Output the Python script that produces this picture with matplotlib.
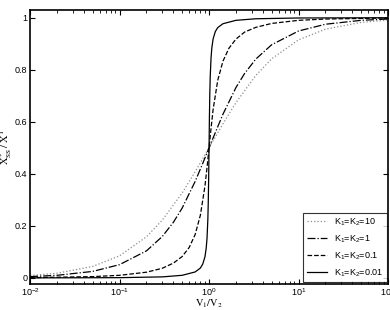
import numpy as np
import matplotlib.pyplot as plt

# V1/V2 sample points and steady-state fraction
x_k10 = [0.01, 0.02, 0.05, 0.1, 0.2, 0.3, 0.5, 0.7, 1.0, 1.43, 2.0, 3.33, 5.0, 10.0, 20.0, 50.0, 100.0]
y_k10 = [0.009, 0.018, 0.044, 0.085, 0.158, 0.222, 0.326, 0.408, 0.5, 0.592, 0.674, 0.778, 0.842, 0.915, 0.956, 0.982, 0.991]

x_k1 = [0.01, 0.02, 0.05, 0.1, 0.2, 0.3, 0.4, 0.5, 0.7, 0.85, 1.0, 1.18, 1.43, 2.0, 2.5, 3.33, 5.0, 10.0, 20.0, 50.0, 100.0]
y_k1 = [0.005, 0.010, 0.025, 0.051, 0.104, 0.159, 0.214, 0.268, 0.371, 0.440, 0.5, 0.560, 0.629, 0.732, 0.786, 0.841, 0.896, 0.949, 0.975, 0.990, 0.995]

x_k01 = [0.01, 0.05, 0.1, 0.2, 0.3, 0.4, 0.5, 0.6, 0.7, 0.8, 0.9, 0.95, 1.0, 1.053, 1.11, 1.25, 1.43, 1.67, 2.0, 2.5, 3.33, 5.0, 10.0, 20.0, 100.0]
y_k01 = [0.001, 0.005, 0.010, 0.022, 0.037, 0.057, 0.082, 0.117, 0.167, 0.241, 0.353, 0.425, 0.5, 0.575, 0.647, 0.759, 0.833, 0.883, 0.918, 0.945, 0.963, 0.978, 0.990, 0.995, 0.999]

x_k001 = [0.01, 0.1, 0.3, 0.5, 0.7, 0.8, 0.85, 0.9, 0.93, 0.95, 0.97, 0.98, 0.99, 1.0,
          1.0101, 1.0204, 1.031, 1.053, 1.075, 1.111, 1.176, 1.25, 1.43, 2.0, 3.33, 10.0, 100.0]
y_k001 = [0.0001, 0.001, 0.004, 0.010, 0.023, 0.038, 0.053, 0.081, 0.115, 0.154, 0.226, 0.288, 0.379, 0.5,
          0.621, 0.712, 0.774, 0.846, 0.885, 0.919, 0.947, 0.962, 0.977, 0.990, 0.996, 0.999, 0.9999]

labels = ['K$_1$=K$_2$=10', 'K$_1$=K$_2$=1', 'K$_1$=K$_2$=0.1', 'K$_1$=K$_2$=0.01']

plt.rcParams['font.family'] = ['Liberation Sans', 'DejaVu Sans']
plt.rcParams['mathtext.fontset'] = 'custom'
plt.rcParams['mathtext.rm'] = 'Liberation Sans'
plt.rcParams['mathtext.it'] = 'Liberation Sans'

fig = plt.figure(figsize=(3.9, 3.1), dpi=100)
ax = fig.add_axes([0.077, 0.085, 0.918, 0.883])

ax.plot(x_k10, y_k10, ':', color='0.55', lw=0.9, label=labels[0])
ax.plot(x_k1, y_k1, '-.', color='k', lw=0.9, label=labels[1])
ax.plot(x_k01, y_k01, '--', color='k', lw=0.9, label=labels[2])
ax.plot(x_k001, y_k001, '-', color='k', lw=0.9, label=labels[3])

ax.set_xscale('log')
ax.set_xlim(1e-2, 1e2)
ax.set_ylim(-0.022, 1.03)
ax.set_yticks([0, 0.2, 0.4, 0.6, 0.8, 1])
ax.set_yticklabels(['0', '0.2', '0.4', '0.6', '0.8', '1'])
ax.tick_params(which='both', direction='in', top=True, right=True, labelsize=6.5, pad=2)
ax.tick_params(which='major', length=3.5)
ax.tick_params(which='minor', length=2)
for s in ax.spines.values():
    s.set_linewidth(1.2)

ax.set_xlabel(r'$\mathrm{V_1/V_2}$', fontsize=7.5, math_fontfamily='stix')
ax.set_ylabel(r'$\mathrm{X^*_{SS}\,/\;X^T}$', fontsize=7.5, math_fontfamily='stix')
ax.xaxis.set_label_coords(0.5, -0.05)
ax.yaxis.set_label_coords(-0.045, 0.5)

leg = ax.legend(loc='lower right', fontsize=6.5, frameon=True, fancybox=False,
                edgecolor='k', borderaxespad=0.15, handlelength=2.2, labelspacing=0.6)
leg.get_frame().set_linewidth(0.8)

fig.savefig('out.png', dpi=100)
